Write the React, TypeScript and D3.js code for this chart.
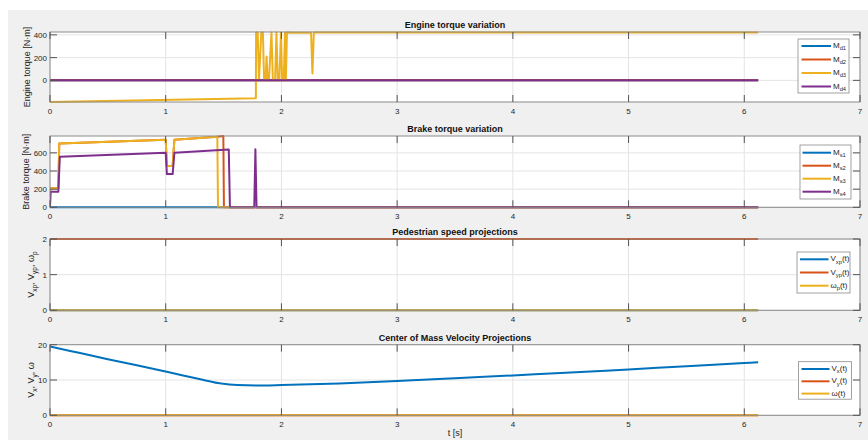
import React from "react";
import * as d3 from "d3";

// ---------- DATA ----------
const tEnd = 6.12;
const xTicks = [0, 1, 2, 3, 4, 5, 6, 7];

// Engine torque
const md1T = [0, tEnd];
const md1V = [0, 0];
const md2T = [0, tEnd];
const md2V = [0, 0];
const md3T = [0, 1.779, 1.781, 1.795, 1.806, 1.826, 1.84, 1.85, 1.862, 1.872, 1.88, 1.892, 1.914, 1.926, 1.945, 1.957, 1.968, 1.982, 1.996, 2.006, 2.02, 2.031, 2.038, 2.048, 2.1, 2.256, 2.268, 2.28, tEnd];
const md3V = [-190, -157, 420, 420, 0, 420, 420, 0, 0, 210, 0, 0, 420, 0, 0, 420, 0, 0, 420, 0, 0, 420, 0, 420, 418, 418, 60, 420, 420];
const md4T = [0, tEnd];
const md4V = [0, 0];
const engineTicks = [0, 200, 400];

// Brake torque
const ms1T = [0, tEnd];
const ms1V = [0, 0];
const ms2T = [0, 0.002, 0.072, 0.08, 1.0, 1.01, 1.06, 1.075, 1.446, 1.498, 1.503, tEnd];
const ms2V = [0, 210, 210, 702, 746, 454, 454, 746, 778, 786, 0, 0];
const ms3T = [0, 0.002, 0.072, 0.08, 1.0, 1.01, 1.06, 1.075, 1.446, 1.452, tEnd];
const ms3V = [0, 210, 210, 702, 746, 454, 454, 746, 778, 0, 0];
const ms4T = [0, 0.005, 0.072, 0.085, 1.0, 1.01, 1.06, 1.075, 1.545, 1.555, 1.765, 1.775, 1.785, tEnd];
const ms4V = [0, 172, 172, 556, 600, 366, 366, 600, 637, 0, 0, 640, 0, 0];
const brakeTicks = [0, 200, 400, 600];

// Pedestrian speed
const vxpT = [0, tEnd];
const vxpV = [0, 0];
const vypT = [0, tEnd];
const vypV = [2, 2];
const wpT = [0, tEnd];
const wpV = [0, 0];
const pedTicks = [0, 1, 2];

// Center of mass velocity
const vxT = [0, 0.25, 0.5, 0.75, 1.0, 1.15, 1.3, 1.45, 1.55, 1.7, 1.85, 2.0, 2.5, 3.0, 3.5, 4.0, 4.5, 5.0, 5.5, 6.0, tEnd];
const vxV = [19.5, 17.7, 15.9, 14.2, 12.4, 11.3, 10.2, 9.15, 8.75, 8.5, 8.45, 8.55, 9.0, 9.7, 10.5, 11.3, 12.1, 13.0, 13.9, 14.8, 15.0];
const vyT = [0, tEnd];
const vyV = [0, 0];
const wT = [0, tEnd];
const wV = [0, 0];
const comTicks = [0, 10, 20];

// ---------- STYLE ----------
const C1 = "#0072BD";
const C2 = "#D95319";
const C3 = "#EDB120";
const C4 = "#7E2F8E";
const FONT = "'Liberation Sans', Arial, Helvetica, sans-serif";

const X0 = 50;
const X1 = 860;

type Series = { t: number[]; v: number[]; color: string; smooth?: boolean };
type Label = { base: string; sub?: string; tail?: string };

const zipPts = (t: number[], v: number[]) => t.map((d, i) => [d, v[i]] as [number, number]);

function Lbl({ l, x, y, size, anchor }: { l: Label[]; x: number; y: number; size: number; anchor?: string }) {
  const sub = size * 0.72;
  const sh = size * 0.3;
  const parts: any[] = [];
  l.forEach((p, i) => {
    parts.push(<tspan key={i + "b"}>{p.base}</tspan>);
    if (p.sub) {
      parts.push(<tspan key={i + "s"} fontSize={sub} dy={sh}>{p.sub}</tspan>);
      parts.push(<tspan key={i + "r"} dy={-sh}>{p.tail || ""}</tspan>);
    } else if (p.tail) {
      parts.push(<tspan key={i + "t"}>{p.tail}</tspan>);
    }
  });
  return (
    <text x={x} y={y} fontSize={size} fill="#262626" textAnchor={anchor || "start"} fontFamily={FONT}>
      {parts}
    </text>
  );
}

function Panel({
  top, bottom, domain, yTicks, series, title, ylabel, ylabelX, legend, legendBox,
}: {
  top: number; bottom: number; domain: [number, number]; yTicks: number[]; series: Series[];
  title: string; ylabel: any; ylabelX: number; legend: Label[][]; legendBox: { x: number; y: number; w: number; h: number; row0: number; dy: number; lx0: number; lx1: number };
}) {
  const x = d3.scaleLinear().domain([0, 7]).range([X0, X1]);
  const y = d3.scaleLinear().domain(domain).range([bottom, top]);
  const lineLin = d3.line<[number, number]>().x((d) => x(d[0])).y((d) => y(d[1]));
  const lineSm = d3.line<[number, number]>().x((d) => x(d[0])).y((d) => y(d[1])).curve(d3.curveMonotoneX);
  const tickLen = 7;
  const midY = (top + bottom) / 2;
  return (
    <g>
      <rect x={X0} y={top} width={X1 - X0} height={bottom - top} fill="#ffffff" />
      {xTicks.map((t) => (
        <line key={"gx" + t} x1={x(t)} x2={x(t)} y1={top} y2={bottom} stroke="#e4e4e4" strokeWidth={1} />
      ))}
      {yTicks.map((t) => (
        <line key={"gy" + t} x1={X0} x2={X1} y1={y(t)} y2={y(t)} stroke="#e4e4e4" strokeWidth={1} />
      ))}
      <defs>
        <clipPath id={"clip" + Math.round(top)}>
          <rect x={X0} y={top - 2} width={X1 - X0} height={bottom - top + 4} />
        </clipPath>
      </defs>
      <g clipPath={`url(#clip${Math.round(top)})`}>
        {series.map((s, i) => (
          <path key={i} d={(s.smooth ? lineSm : lineLin)(zipPts(s.t, s.v)) || ""} fill="none" stroke={s.color} strokeWidth={2} strokeLinejoin="round" />
        ))}
      </g>
      <rect x={X0} y={top} width={X1 - X0} height={bottom - top} fill="none" stroke="#8a8a8a" strokeWidth={1} />
      {xTicks.map((t) => (
        <g key={"tx" + t}>
          <line x1={x(t)} x2={x(t)} y1={bottom} y2={bottom - tickLen} stroke="#555" strokeWidth={1} />
          <line x1={x(t)} x2={x(t)} y1={top} y2={top + tickLen} stroke="#555" strokeWidth={1} />
          <text x={x(t)} y={bottom + 12} fontSize={8} textAnchor="middle" fill="#262626" fontFamily={FONT}>{t}</text>
        </g>
      ))}
      {yTicks.map((t) => (
        <g key={"ty" + t}>
          <line x1={X0} x2={X0 + tickLen} y1={y(t)} y2={y(t)} stroke="#555" strokeWidth={1} />
          <line x1={X1} x2={X1 - tickLen} y1={y(t)} y2={y(t)} stroke="#555" strokeWidth={1} />
          <text x={X0 - 3} y={y(t) + 3} fontSize={8} textAnchor="end" fill="#262626" fontFamily={FONT}>{t}</text>
        </g>
      ))}
      <text x={(X0 + X1) / 2} y={top - 4} fontSize={9} fontWeight="bold" textAnchor="middle" fill="#111" fontFamily={FONT}>{title}</text>
      <g transform={`translate(${ylabelX},${midY}) rotate(-90)`}>{ylabel}</g>
      <rect x={legendBox.x} y={legendBox.y} width={legendBox.w} height={legendBox.h} fill="#fff" stroke="#8a8a8a" strokeWidth={0.8} />
      {legend.map((l, i) => {
        const ry = legendBox.row0 + i * legendBox.dy;
        return (
          <g key={"lg" + i}>
            <line x1={legendBox.lx0} x2={legendBox.lx1} y1={ry} y2={ry} stroke={series[i].color} strokeWidth={2} />
            <Lbl l={l} x={legendBox.lx1 + 2} y={ry + 2} size={8} />
          </g>
        );
      })}
    </g>
  );
}

export default function App() {
  return (
    <svg width={868} height={440} style={{ position: "absolute", left: 0, top: 0 }} xmlns="http://www.w3.org/2000/svg">
      <rect x={0} y={0} width={868} height={440} fill="#ffffff" />
      <rect x={8} y={10} width={860} height={430} fill="#f0f0f0" />
      <Panel
        top={32} bottom={102} domain={[-190, 425]} yTicks={engineTicks}
        series={[
          { t: md1T, v: md1V, color: C1 },
          { t: md2T, v: md2V, color: C2 },
          { t: md3T, v: md3V, color: C3 },
          { t: md4T, v: md4V, color: C4 },
        ]}
        title="Engine torque variation"
        ylabel={<text x={0} y={3} fontSize={9} textAnchor="middle" fill="#262626" fontFamily={FONT}>Engine torque [N·m]</text>}
        ylabelX={27}
        legend={[[{ base: "M", sub: "d1" }], [{ base: "M", sub: "d2" }], [{ base: "M", sub: "d3" }], [{ base: "M", sub: "d4" }]]}
        legendBox={{ x: 798, y: 39, w: 51, h: 54, row0: 46, dy: 13.5, lx0: 801.5, lx1: 831 }}
      />
      <Panel
        top={136} bottom={207.3} domain={[0, 786]} yTicks={brakeTicks}
        series={[
          { t: ms1T, v: ms1V, color: C1 },
          { t: ms2T, v: ms2V, color: C2 },
          { t: ms3T, v: ms3V, color: C3 },
          { t: ms4T, v: ms4V, color: C4 },
        ]}
        title="Brake torque variation"
        ylabel={<text x={0} y={3} fontSize={9} textAnchor="middle" fill="#262626" fontFamily={FONT}>Brake torque [N·m]</text>}
        ylabelX={26}
        legend={[[{ base: "M", sub: "s1" }], [{ base: "M", sub: "s2" }], [{ base: "M", sub: "s3" }], [{ base: "M", sub: "s4" }]]}
        legendBox={{ x: 800, y: 145, w: 51, h: 54, row0: 152.7, dy: 13, lx0: 802.5, lx1: 831 }}
      />
      <Panel
        top={239} bottom={310.3} domain={[0, 2]} yTicks={pedTicks}
        series={[
          { t: vxpT, v: vxpV, color: C1 },
          { t: vypT, v: vypV, color: C2 },
          { t: wpT, v: wpV, color: C3 },
        ]}
        title="Pedestrian speed projections"
        ylabel={<Lbl l={[{ base: "V", sub: "xp", tail: ", " }, { base: "V", sub: "yp", tail: ", " }, { base: "ω", sub: "p" }]} x={0} y={3} size={9} anchor="middle" />}
        ylabelX={31}
        legend={[[{ base: "V", sub: "xp", tail: "(t)" }], [{ base: "V", sub: "yp", tail: "(t)" }], [{ base: "ω", sub: "p", tail: "(t)" }]]}
        legendBox={{ x: 797, y: 252, w: 53, h: 41, row0: 259.3, dy: 13.2, lx0: 800, lx1: 828.5 }}
      />
      <Panel
        top={344.7} bottom={415.3} domain={[0, 20]} yTicks={comTicks}
        series={[
          { t: vxT, v: vxV, color: C1, smooth: true },
          { t: vyT, v: vyV, color: C2 },
          { t: wT, v: wV, color: C3 },
        ]}
        title="Center of Mass Velocity Projections"
        ylabel={<Lbl l={[{ base: "V", sub: "x", tail: ", " }, { base: "V", sub: "y", tail: ", " }, { base: "ω" }]} x={0} y={3} size={9} anchor="middle" />}
        ylabelX={31}
        legend={[[{ base: "V", sub: "x", tail: "(t)" }], [{ base: "V", sub: "y", tail: "(t)" }], [{ base: "ω", tail: "(t)" }]]}
        legendBox={{ x: 798.5, y: 361.7, w: 53, h: 37.5, row0: 369, dy: 12.3, lx0: 801.5, lx1: 829.5 }}
      />
      <text x={(X0 + X1) / 2} y={436} fontSize={9} textAnchor="middle" fill="#262626" fontFamily={FONT}>t [s]</text>
    </svg>
  );
}
